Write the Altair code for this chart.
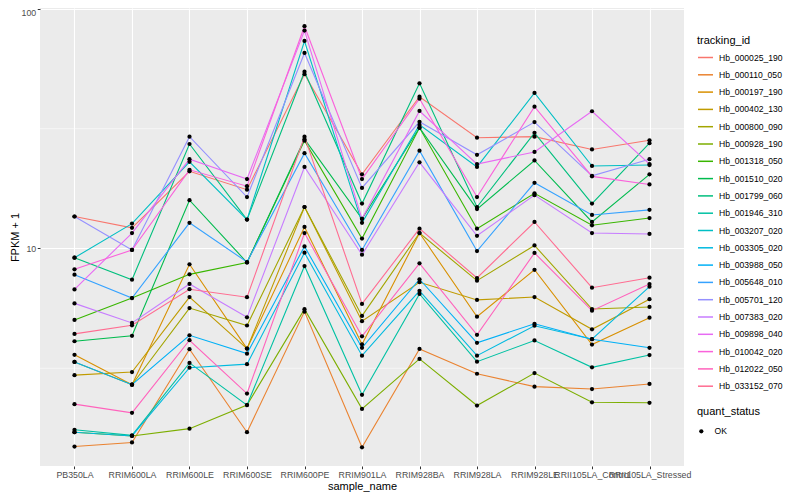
import altair as alt
import pandas as pd

samples = ["PB350LA", "RRIM600LA", "RRIM600LE", "RRIM600SE", "RRIM600PE", "RRIM901LA",
           "RRIM928BA", "RRIM928LA", "RRIM928LE", "RRII105LA_Control", "RRII105LA_Stressed"]

ids = ["Hb_000025_190", "Hb_000110_050", "Hb_000197_190", "Hb_000402_130", "Hb_000800_090",
       "Hb_000928_190", "Hb_001318_050", "Hb_001510_020", "Hb_001799_060", "Hb_001946_310",
       "Hb_003207_020", "Hb_003305_020", "Hb_003988_050", "Hb_005648_010", "Hb_005701_120",
       "Hb_007383_020", "Hb_009898_040", "Hb_010042_020", "Hb_012022_050", "Hb_033152_070"]

colors = ["#F8766D", "#EA8331", "#D89000", "#C09B00", "#A3A500", "#7CAE00", "#39B600",
          "#00BB4E", "#00BF7D", "#00C1A3", "#00BFC4", "#00BAE0", "#00B0F6", "#35A2FF",
          "#9590FF", "#C77CFF", "#E76BF3", "#FA62DB", "#FF62BC", "#FF6C91"]

# FPKM + 1 per sample (order of `samples`)
hb_000025_190 = [13.6, 12.2, 21.0, 17.6, 53.4, 20.4, 43.0, 29.0, 29.3, 25.9, 28.3]
hb_000110_050 = [1.49, 1.55, 3.80, 1.71, 5.45, 1.48, 3.81, 3.00, 2.65, 2.59, 2.72]
hb_000197_190 = [3.60, 2.70, 8.59, 3.82, 12.3, 3.98, 11.6, 5.19, 8.15, 3.97, 5.14]
hb_000402_130 = [2.96, 3.05, 6.27, 3.82, 14.9, 4.97, 7.23, 6.10, 6.27, 4.60, 6.14]
hb_000800_090 = [3.36, 2.70, 5.64, 4.77, 14.9, 5.23, 11.6, 7.34, 10.3, 5.59, 5.70]
hb_000928_190 = [1.71, 1.65, 1.77, 2.22, 5.58, 2.14, 3.46, 2.21, 3.02, 2.28, 2.27]
hb_001318_050 = [5.03, 6.21, 7.80, 8.74, 28.2, 11.0, 31.9, 12.1, 17.0, 12.5, 13.4]
hb_001510_020 = [4.10, 4.32, 15.9, 8.74, 28.6, 13.3, 31.9, 14.6, 23.3, 12.9, 20.4]
hb_001799_060 = [9.15, 7.41, 27.3, 13.2, 54.7, 15.4, 48.9, 14.9, 30.4, 15.4, 27.5]
hb_001946_310 = [1.75, 1.66, 3.33, 2.22, 8.45, 2.45, 6.46, 3.37, 4.13, 3.19, 3.59]
hb_003207_020 = [9.15, 12.7, 23.0, 13.2, 73.5, 12.8, 32.8, 21.9, 44.6, 22.1, 22.3]
hb_003305_020 = [1.71, 1.65, 3.18, 3.29, 9.60, 3.57, 6.66, 3.57, 4.76, 4.18, 6.93]
hb_003988_050 = [3.36, 2.70, 4.34, 3.64, 10.2, 3.85, 7.44, 4.04, 4.85, 4.18, 3.85]
hb_005648_010 = [7.77, 6.21, 12.8, 8.78, 25.0, 9.86, 25.6, 9.76, 18.8, 13.8, 14.5]
hb_005701_120 = [13.6, 9.86, 29.3, 16.4, 65.5, 17.9, 33.8, 24.6, 33.7, 20.1, 23.6]
hb_007383_020 = [5.90, 4.89, 7.11, 5.16, 21.9, 9.42, 22.9, 11.3, 16.7, 11.6, 11.5]
hb_009898_040 = [6.75, 11.6, 23.6, 19.5, 81.2, 13.3, 37.5, 22.5, 25.3, 37.4, 22.5]
hb_010042_020 = [8.19, 9.86, 21.3, 18.2, 84.7, 19.5, 42.2, 16.4, 39.1, 20.0, 18.5]
hb_012022_050 = [2.24, 2.06, 4.14, 2.48, 11.6, 4.30, 8.67, 4.36, 9.58, 5.50, 7.10]
hb_033152_070 = [4.40, 4.78, 6.76, 6.26, 29.3, 5.87, 12.1, 7.53, 12.9, 6.86, 7.55]

series = [hb_000025_190, hb_000110_050, hb_000197_190, hb_000402_130, hb_000800_090,
          hb_000928_190, hb_001318_050, hb_001510_020, hb_001799_060, hb_001946_310,
          hb_003207_020, hb_003305_020, hb_003988_050, hb_005648_010, hb_005701_120,
          hb_007383_020, hb_009898_040, hb_010042_020, hb_012022_050, hb_033152_070]

minor_breaks = [3.1623, 31.623]

rows = []
for tid, vals in zip(ids, series):
    for i, (s, v) in enumerate(zip(samples, vals)):
        rows.append({"tracking_id": tid, "sample_name": s, "idx": i, "fpkm": v, "quant_status": "OK"})
df = pd.DataFrame(rows)

FONT = "Liberation Sans"

x_enc = alt.X("sample_name:N", sort=samples,
              scale=alt.Scale(type="point", padding=0.6),
              axis=alt.Axis(title="sample_name", labelAngle=0, labelOverlap=False, labelBound=False,
                            labelFontSize=8.8, labelColor="#4D4D4D", labelFont=FONT, labelPadding=1.5,
                            tickColor="#333333", tickSize=2.75, tickWidth=1, domain=False,
                            grid=True, gridColor="white", gridWidth=1.1,
                            titleFontSize=11, titleColor="black", titleFont=FONT,
                            titleFontWeight="normal", titlePadding=1))
y_enc = alt.Y("fpkm:Q",
              scale=alt.Scale(type="log", domain=[1.236, 100.9], nice=False),
              axis=alt.Axis(title="FPKM + 1", values=[10, 100], format="d",
                            labelFontSize=8.8, labelColor="#4D4D4D", labelFont=FONT, labelPadding=1.5,
                            labelFlush=5,
                            tickColor="#333333", tickSize=2.75, tickWidth=1, domain=False,
                            grid=True, gridColor="white", gridWidth=1.1,
                            titleFontSize=11, titleColor="black", titleFont=FONT,
                            titleFontWeight="normal", titlePadding=1))

minor = alt.Chart(pd.DataFrame({"fpkm": minor_breaks})).mark_rule(
    color="white", strokeWidth=0.55).encode(y=y_enc)

lines = alt.Chart(df).mark_line(strokeWidth=1.1).encode(
    x=x_enc, y=y_enc,
    color=alt.Color("tracking_id:N", scale=alt.Scale(domain=ids, range=colors),
                    legend=alt.Legend(title="tracking_id", orient="none", legendX=657, legendY=27,
                                      symbolType="stroke", symbolSize=225, symbolStrokeWidth=1.5,
                                      labelFontSize=8.6, labelColor="black", labelFont=FONT,
                                      titleFontSize=11, titleColor="black", titleFont=FONT,
                                      titleFontWeight="normal", titlePadding=3, rowPadding=3.3,
                                      labelOffset=5, padding=0)),
    order=alt.Order("idx:Q"),
)

points = alt.Chart(df).mark_point(filled=True, size=18, color="black", opacity=1).encode(
    x=x_enc, y=y_enc,
    shape=alt.Shape("quant_status:N", scale=alt.Scale(range=["circle"]),
                    legend=alt.Legend(title="quant_status", orient="none", legendX=657, legendY=398,
                                      symbolSize=18, symbolFillColor="black", symbolStrokeColor="black",
                                      labelFontSize=8.6, labelColor="black", labelFont=FONT,
                                      titleFontSize=11, titleColor="black", titleFont=FONT,
                                      titleFontWeight="normal", titlePadding=10,
                                      labelOffset=9, padding=0)),
)

chart = alt.layer(minor, lines, points).properties(
    width=644, height=458,
    autosize=alt.AutoSizeParams(type="none"),
    padding={"left": 32, "top": 0, "right": 106, "bottom": 26},
).configure_view(fill="#EBEBEB", strokeWidth=0)

chart.save("out.html", embed_options={"renderer": "svg", "actions": False})
